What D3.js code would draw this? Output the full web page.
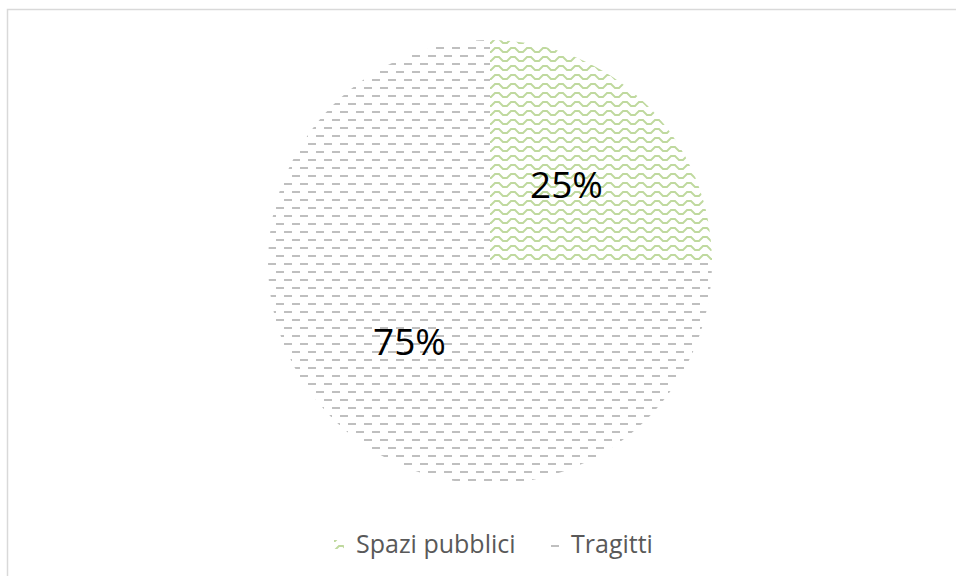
<!DOCTYPE html>
<html>
<head>
<meta charset="utf-8">
<script src="https://cdn.jsdelivr.net/npm/d3@7"></script>
<style>
  html, body { margin: 0; padding: 0; background: #fff; }
  svg { display: block; }
</style>
</head>
<body>
<svg id="chart" width="956" height="576"></svg>
<script>
// Share of the total, by category
const categories = ["Spazi pubblici", "Tragitti"];
const shares = [25, 75];
const sliceLabels = ["25%", "75%"];

const W = 956, H = 576;
const cx = 490, cy = 262, radius = 222;
const FONT = "'Open Sans', 'Noto Sans', sans-serif";

const svg = d3.select("#chart");
const defs = svg.append("defs");

// Zigzag green fill
const wave = defs.append("pattern")
  .attr("id", "pat-wave")
  .attr("patternUnits", "userSpaceOnUse")
  .attr("width", 16).attr("height", 9);
wave.append("path")
  .attr("d", "M-2,6 L1,6 L5,2 L9,2 L13,6 L18,6")
  .attr("fill", "none")
  .attr("stroke", "#bfd99e")
  .attr("stroke-width", 1.9);

// Offset dash fill
const dash = defs.append("pattern")
  .attr("id", "pat-dash")
  .attr("patternUnits", "userSpaceOnUse")
  .attr("width", 16).attr("height", 16);
dash.append("rect").attr("x", 2).attr("y", 1).attr("width", 8).attr("height", 2).attr("fill", "#bfbfbf");
dash.append("rect").attr("x", 10).attr("y", 9).attr("width", 8).attr("height", 2).attr("fill", "#bfbfbf");
dash.append("rect").attr("x", -6).attr("y", 9).attr("width", 8).attr("height", 2).attr("fill", "#bfbfbf");

const fills = d3.scaleOrdinal().domain(categories).range(["url(#pat-wave)", "url(#pat-dash)"]);

// Frame
svg.append("path")
  .attr("d", `M7.5,${H} L7.5,9.5 L${W},9.5`)
  .attr("fill", "none")
  .attr("stroke", "#d9d9d9")
  .attr("stroke-width", 1.5);

const data = categories.map((c, i) => ({ cat: c, value: shares[i], label: sliceLabels[i] }));
const pie = d3.pie().value(d => d.value).sort(null);
const arc = d3.arc().innerRadius(0).outerRadius(radius);
const labelArc = d3.arc().innerRadius(radius * 0.5).outerRadius(radius * 0.5);

const g = svg.append("g").attr("transform", `translate(${cx},${cy})`);
const arcs = pie(data);

g.selectAll("path.slice")
  .data(arcs)
  .join("path")
  .attr("class", "slice")
  .attr("d", arc)
  .attr("fill", d => fills(d.data.cat));

g.selectAll("text.pct")
  .data(arcs)
  .join("text")
  .attr("class", "pct")
  .attr("transform", d => { const [x, y] = labelArc.centroid(d); return `translate(${x - 2},${y + 1.5})`; })
  .attr("text-anchor", "middle")
  .attr("dy", "0.36em")
  .attr("font-family", FONT)
  .attr("font-size", 37)
  .attr("fill", "#000")
  .text(d => d.data.label);

// Legend
const legend = svg.append("g").attr("font-family", FONT).attr("font-size", 25).attr("fill", "#595959");
const legendX = [334, 549];
categories.forEach((c, i) => {
  const lg = legend.append("g").attr("transform", `translate(${legendX[i]},544)`);
  lg.append("rect").attr("x", 0).attr("y", -4).attr("width", 10).attr("height", 9).attr("fill", fills(c));
  lg.append("text").attr("x", 22).attr("y", 0).attr("dy", "0.36em").text(c);
});
</script>
</body>
</html>
